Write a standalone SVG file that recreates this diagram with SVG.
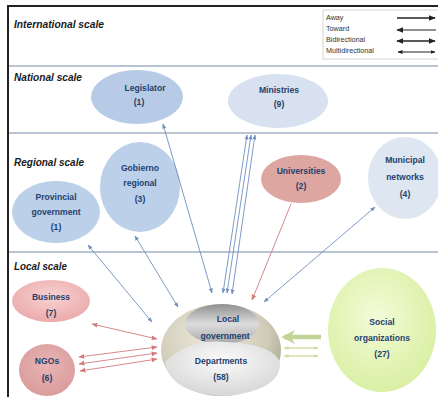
<svg xmlns="http://www.w3.org/2000/svg" width="438" height="397" viewBox="0 0 438 397">
<defs>
<style>
.scale{font-family:"Liberation Sans",Arial,sans-serif;font-weight:bold;font-style:italic;font-size:10.5px;fill:#1a1a1a}
.lbl{font-family:"Liberation Sans",Arial,sans-serif;font-weight:bold;font-size:8.6px;fill:#23416e;text-anchor:middle}
.leg{font-family:"Liberation Sans",Arial,sans-serif;font-size:7.2px;fill:#333}
.sep{stroke:#b9c4d3;stroke-width:2}
.blue{stroke:#6f8fc0;stroke-width:0.9;fill:none}
.red{stroke:#d07c7c;stroke-width:0.9;fill:none}
.green{stroke:#cfe0a8;stroke-width:1.3;fill:none}
</style>
<marker id="hb" viewBox="0 0 10 10" refX="9" refY="5" markerWidth="5" markerHeight="5" orient="auto-start-reverse" markerUnits="userSpaceOnUse"><path d="M0,1 L10,5 L0,9 z" fill="#6f8fc0"/></marker>
<marker id="hr" viewBox="0 0 10 10" refX="9" refY="5" markerWidth="6" markerHeight="6" orient="auto-start-reverse" markerUnits="userSpaceOnUse"><path d="M0,1 L10,5 L0,9 z" fill="#d07c7c"/></marker>
<marker id="hg" viewBox="0 0 10 10" refX="9" refY="5" markerWidth="5" markerHeight="5" orient="auto-start-reverse" markerUnits="userSpaceOnUse"><path d="M0,1 L10,5 L0,9 z" fill="#cfe0a8"/></marker>
<marker id="hG" viewBox="0 0 10 10" refX="8" refY="5" markerWidth="14" markerHeight="14" orient="auto-start-reverse" markerUnits="userSpaceOnUse"><path d="M0,0 L10,5 L0,10 L3,5 z" fill="#c3d596"/></marker>
<marker id="hk" viewBox="0 0 10 10" refX="9" refY="5" markerWidth="7" markerHeight="7" orient="auto-start-reverse" markerUnits="userSpaceOnUse"><path d="M0,1 L10,5 L0,9 z" fill="#222"/></marker>
<marker id="hks" viewBox="0 0 10 10" refX="9" refY="5" markerWidth="5" markerHeight="5" orient="auto-start-reverse" markerUnits="userSpaceOnUse"><path d="M0,1 L10,5 L0,9 z" fill="#222"/></marker>
<radialGradient id="gSoc" cx="0.45" cy="0.4" r="0.6"><stop offset="0" stop-color="#f4fbd8"/><stop offset="1" stop-color="#d9f0a4"/></radialGradient>
<radialGradient id="gBus" cx="0.5" cy="0.4" r="0.6"><stop offset="0" stop-color="#fad2d2"/><stop offset="1" stop-color="#eaaaaa"/></radialGradient>
<radialGradient id="gNgo" cx="0.5" cy="0.4" r="0.6"><stop offset="0" stop-color="#e9b4b4"/><stop offset="1" stop-color="#d99c9c"/></radialGradient>
<radialGradient id="gBowl" cx="0.4" cy="0.35" r="0.7"><stop offset="0" stop-color="#ece9dc"/><stop offset="0.7" stop-color="#cfcbb6"/><stop offset="1" stop-color="#a9a692"/></radialGradient>
<linearGradient id="gTop" x1="0" y1="0" x2="0" y2="1"><stop offset="0" stop-color="#8f8f8f"/><stop offset="0.5" stop-color="#dcdcdc"/><stop offset="1" stop-color="#a8a8a8"/></linearGradient>
<radialGradient id="gDep" cx="0.5" cy="0.35" r="0.65"><stop offset="0" stop-color="#fbfbfb"/><stop offset="1" stop-color="#d6d6d6"/></radialGradient>
</defs>
<rect width="438" height="397" fill="#fff"/>
<!-- frame and bands -->
<g id="frame">
<line x1="8" y1="6" x2="438" y2="6" stroke="#222" stroke-width="2"/>
<line x1="8" y1="5" x2="8" y2="397" stroke="#222" stroke-width="2"/>
<line class="sep" x1="9" y1="66" x2="438" y2="66"/>
<line class="sep" x1="9" y1="133" x2="438" y2="133"/>
<line class="sep" x1="9" y1="252" x2="438" y2="252"/>
<text class="scale" x="14" y="28" textLength="90" lengthAdjust="spacingAndGlyphs">International scale</text>
<text class="scale" x="14" y="81" textLength="68" lengthAdjust="spacingAndGlyphs">National scale</text>
<text class="scale" x="14" y="166" textLength="70" lengthAdjust="spacingAndGlyphs">Regional scale</text>
<text class="scale" x="14" y="270" textLength="53" lengthAdjust="spacingAndGlyphs">Local scale</text>
</g>
<!-- legend -->
<g id="legend">
<rect x="323" y="10" width="118" height="49" fill="#fff" stroke="#d4d4d4" stroke-width="1"/>
<text class="leg" x="326" y="20">Away</text>
<text class="leg" x="326" y="31">Toward</text>
<text class="leg" x="326" y="42">Bidirectional</text>
<text class="leg" x="326" y="53">Multidirectional</text>
<line x1="397" y1="18" x2="435" y2="18" stroke="#222" stroke-width="1.6" marker-end="url(#hk)"/>
<line x1="436" y1="30" x2="397" y2="30" stroke="#222" stroke-width="1.2" marker-end="url(#hk)"/>
<line x1="397" y1="41" x2="435" y2="41" stroke="#222" stroke-width="1.6" marker-start="url(#hk)" marker-end="url(#hk)"/>
<line x1="398" y1="52" x2="435" y2="52" stroke="#222" stroke-width="1" marker-start="url(#hks)" marker-end="url(#hks)"/>
</g>
<!-- nodes -->
<g id="legislator">
<ellipse cx="137" cy="97" rx="46" ry="27" fill="#b7cbe6"/>
<text class="lbl" x="145" y="91">Legislator</text>
<text class="lbl" x="139" y="105">(1)</text>
</g>
<g id="ministries">
<ellipse cx="278" cy="101" rx="50" ry="27" fill="#d7e1ef"/>
<text class="lbl" x="279" y="93">Ministries</text>
<text class="lbl" x="279" y="107">(9)</text>
</g>
<g id="provincial">
<ellipse cx="56" cy="212" rx="44" ry="31" fill="#bdd0ea"/>
<text class="lbl" x="56" y="200">Provincial</text>
<text class="lbl" x="56" y="215">government</text>
<text class="lbl" x="56" y="230">(1)</text>
</g>
<g id="gobierno">
<ellipse cx="140" cy="187" rx="40" ry="45" fill="#bdd0ea"/>
<text class="lbl" x="140" y="171">Gobierno</text>
<text class="lbl" x="140" y="186">regional</text>
<text class="lbl" x="140" y="202">(3)</text>
</g>
<g id="universities">
<ellipse cx="301" cy="179" rx="40" ry="24" fill="#dea6a1"/>
<text class="lbl" x="301" y="174">Universities</text>
<text class="lbl" x="301" y="189">(2)</text>
</g>
<g id="municipal">
<ellipse cx="405" cy="178" rx="37" ry="41" fill="#dee6f1"/>
<text class="lbl" x="405" y="163">Municipal</text>
<text class="lbl" x="405" y="180">networks</text>
<text class="lbl" x="405" y="197">(4)</text>
</g>
<g id="business">
<ellipse cx="51" cy="301" rx="39" ry="21" fill="url(#gBus)"/>
<text class="lbl" x="51" y="300">Business</text>
<text class="lbl" x="51" y="316">(7)</text>
</g>
<g id="ngos">
<ellipse cx="47" cy="370" rx="28" ry="26" fill="url(#gNgo)"/>
<text class="lbl" x="47" y="364">NGOs</text>
<text class="lbl" x="47" y="381">(6)</text>
</g>
<g id="social">
<ellipse cx="382" cy="330" rx="54" ry="62" fill="url(#gSoc)"/>
<text class="lbl" x="382" y="325">Social</text>
<text class="lbl" x="382" y="341">organizations</text>
<text class="lbl" x="382" y="357">(27)</text>
</g>
<g id="local-government">
<ellipse cx="221" cy="350" rx="60" ry="46" fill="url(#gBowl)"/>
<ellipse cx="222" cy="324" rx="37" ry="20" fill="url(#gTop)"/>
<path d="M165,362 Q190,338 226,342 Q272,344 280,362 Q282,390 226,396 Q170,394 165,362 z" fill="url(#gDep)"/>
<text class="lbl" x="228" y="322">Local</text>
<text class="lbl" x="225" y="339">government</text>
<text class="lbl" x="221" y="364">Departments</text>
<text class="lbl" x="221" y="380">(58)</text>
</g>
<!-- connectors -->
<g id="connectors">
<line class="blue" x1="163" y1="124" x2="212" y2="293" marker-start="url(#hb)" marker-end="url(#hb)"/>
<line class="blue" x1="247" y1="135" x2="223" y2="293" marker-start="url(#hb)" marker-end="url(#hb)"/>
<line class="blue" x1="251" y1="135" x2="227" y2="293" marker-start="url(#hb)" marker-end="url(#hb)"/>
<line class="blue" x1="255" y1="135" x2="232" y2="294" marker-start="url(#hb)" marker-end="url(#hb)"/>
<line class="blue" x1="88" y1="245" x2="152" y2="322" marker-start="url(#hb)" marker-end="url(#hb)"/>
<line class="blue" x1="135" y1="236" x2="178" y2="307" marker-start="url(#hb)" marker-end="url(#hb)"/>
<line class="blue" x1="375" y1="207" x2="264" y2="302" marker-start="url(#hb)" marker-end="url(#hb)"/>
<line class="red" x1="291" y1="204" x2="252" y2="300" marker-end="url(#hr)"/>
<line class="red" x1="92" y1="324" x2="157" y2="339" stroke-width="1.6" marker-start="url(#hr)" marker-end="url(#hr)"/>
<line class="red" x1="79" y1="357" x2="157" y2="347" marker-start="url(#hr)" marker-end="url(#hr)"/>
<line class="red" x1="79" y1="364" x2="157" y2="353" marker-start="url(#hr)" marker-end="url(#hr)"/>
<line class="red" x1="80" y1="371" x2="157" y2="359" marker-start="url(#hr)" marker-end="url(#hr)"/>
<line x1="321" y1="337" x2="284" y2="337" stroke="#c3d596" stroke-width="4.5" marker-end="url(#hG)"/>
<line class="green" x1="284" y1="348" x2="318" y2="348" marker-start="url(#hg)" marker-end="url(#hg)"/>
<line class="green" x1="284" y1="356" x2="318" y2="356" marker-start="url(#hg)" marker-end="url(#hg)"/>
</g>
</svg>
